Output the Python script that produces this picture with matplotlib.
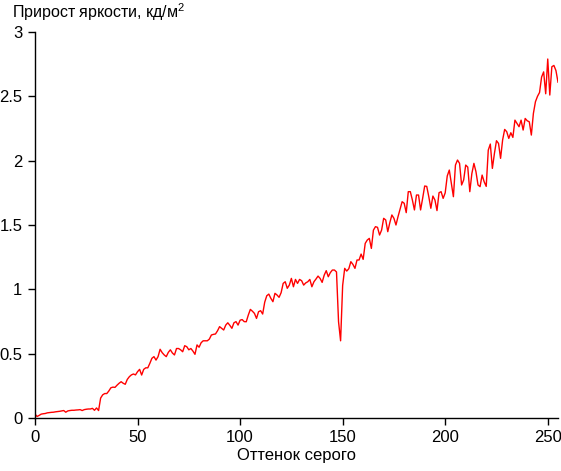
import numpy as np
import matplotlib
matplotlib.use('Agg')
import matplotlib.pyplot as plt
from matplotlib.ticker import FuncFormatter

# gray level 0..255 -> brightness increment
shade = np.arange(256)
low = [0.03, 0.012, 0.02, 0.03, 0.033, 0.035, 0.04, 0.042, 0.044, 0.045,
       0.048, 0.05, 0.052, 0.055, 0.058, 0.045, 0.055, 0.058, 0.06, 0.06,
       0.062, 0.063, 0.065, 0.058, 0.065, 0.068, 0.07, 0.07, 0.075, 0.06,
       0.078, 0.058]
mid = [0.155, 0.18, 0.19, 0.19, 0.21, 0.235, 0.24, 0.238, 0.255, 0.27,
       0.282, 0.27, 0.262, 0.3, 0.321, 0.335, 0.342, 0.335, 0.36, 0.378,
       0.334, 0.378, 0.39, 0.39, 0.425, 0.464, 0.477, 0.45, 0.477, 0.534,
       0.508, 0.49, 0.477, 0.51, 0.53, 0.505, 0.49, 0.54, 0.54, 0.53,
       0.515, 0.562, 0.554, 0.53, 0.54, 0.52, 0.495, 0.568, 0.55, 0.585,
       0.6, 0.6, 0.6, 0.613, 0.645, 0.65, 0.653, 0.678, 0.71, 0.697,
       0.684, 0.722, 0.74, 0.72, 0.697, 0.74, 0.749, 0.722, 0.76, 0.765,
       0.749, 0.748, 0.8, 0.844, 0.83, 0.813, 0.774, 0.826, 0.834, 0.808,
       0.9, 0.95, 0.963, 0.93, 0.904, 0.969, 0.956, 0.938, 0.974, 1.046,
       1.059, 1.008, 1.033, 1.085, 1.02, 1.077, 1.046, 1.077, 1.067, 1.033,
       1.05, 1.059, 1.077, 1.02, 1.059, 1.08, 1.103, 1.085, 1.054, 1.11,
       1.145, 1.098, 1.13, 1.15, 1.15, 1.135, 0.748, 0.6, 1.03, 1.163]
high = [1.142, 1.16, 1.215, 1.194, 1.163, 1.228, 1.228, 1.274, 1.233, 1.357,
        1.383, 1.396, 1.318, 1.46, 1.487, 1.482, 1.422, 1.461, 1.552, 1.539,
        1.448, 1.518, 1.578, 1.552, 1.5, 1.565, 1.622, 1.681, 1.669, 1.596,
        1.759, 1.759, 1.694, 1.617, 1.733, 1.733, 1.617, 1.707, 1.803, 1.8,
        1.72, 1.63, 1.725, 1.694, 1.612, 1.751, 1.759, 1.707, 1.75, 1.881,
        1.927, 1.824, 1.72, 1.966, 2.005, 1.979, 1.811, 1.85, 1.966, 1.95,
        1.759, 1.9, 1.979, 1.914, 1.811, 1.798, 1.888, 1.836, 1.8, 2.082,
        2.129, 1.94, 2.056, 2.155, 2.134, 2.018, 2.161, 2.243, 2.225, 2.173,
        2.217, 2.181, 2.315, 2.29, 2.264, 2.315, 2.238, 2.328, 2.31, 2.302,
        2.199, 2.367, 2.458, 2.50, 2.53, 2.65, 2.69, 2.52, 2.79, 2.51,
        2.73, 2.74, 2.70, 2.61]
gain = low + mid + high

yticks = [0, 0.5, 1, 1.5, 2, 2.5, 3]
xticks = [0, 50, 100, 150, 200, 250]

plt.rcParams['font.family'] = ['Liberation Sans', 'DejaVu Sans']
plt.rcParams['mathtext.fontset'] = 'custom'
plt.rcParams['mathtext.rm'] = 'Liberation Sans'
plt.rcParams['mathtext.it'] = 'Liberation Sans'

fig = plt.figure(figsize=(5.61, 4.71), dpi=100)
ax = fig.add_axes([35 / 561, 1 - 418 / 471, 523 / 561, 386 / 471])
ax.plot(shade, gain, color='red', lw=1)

ax.set_xlim(0, 255)
ax.set_ylim(0, 3)
ax.set_xticks(xticks)
ax.set_yticks(yticks)
ax.yaxis.set_major_formatter(FuncFormatter(lambda v, p: '%g' % v))
ax.tick_params(labelsize=12, length=5, width=1, direction='out', pad=4)
for s in ['top', 'right']:
    ax.spines[s].set_visible(False)
ax.spines['left'].set_linewidth(1)
ax.spines['bottom'].set_linewidth(1)

ax.set_xlabel('Оттенок серого', fontsize=12, labelpad=2)
fig.text(12 / 561, 1 - 12 / 471, 'Прирост яркости, кд/м$^\\mathrm{2}$', fontsize=11.5,
         ha='left', va='center')

fig.savefig('out.png', dpi=100)
